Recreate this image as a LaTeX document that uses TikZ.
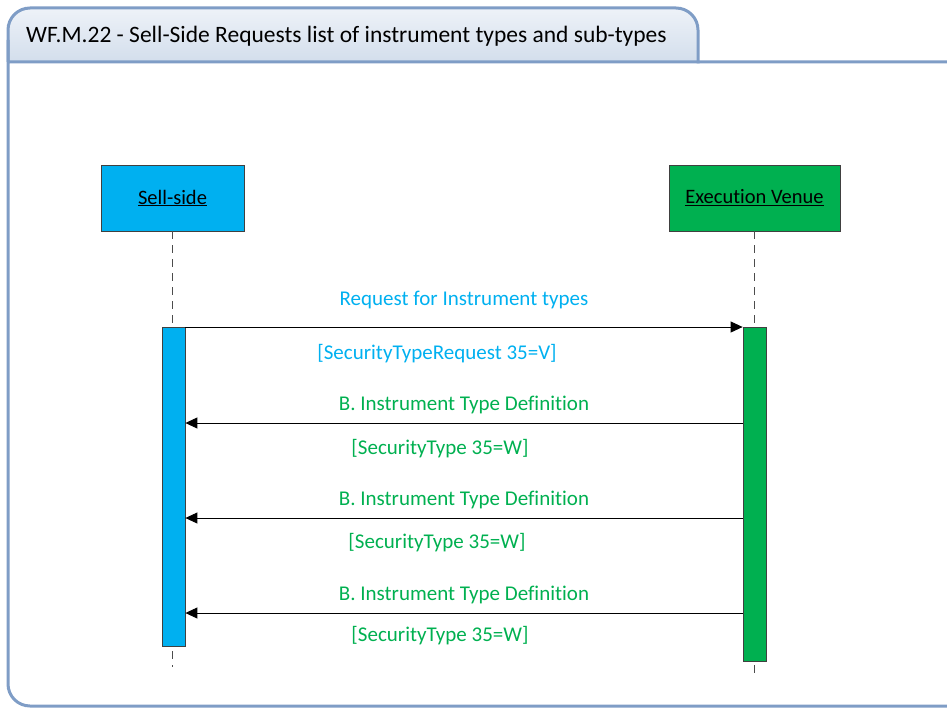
\documentclass[tikz,border=0pt]{standalone}
\usepackage{fontspec}
\setmainfont{Carlito}[Ligatures={NoCommon}]
\usetikzlibrary{arrows.meta}
\definecolor{frameblue}{HTML}{7F9DC6}
\definecolor{tabtop}{HTML}{EEF2F8}
\definecolor{tabbot}{HTML}{D3DEEC}
\definecolor{sellc}{HTML}{00B0F0}
\definecolor{venc}{HTML}{00B050}
\tikzset{
  actor/.style={draw=black!75, line width=0.8pt, minimum height=66pt, inner sep=0pt, font=\fontsize{20.5}{24}\selectfont},
  lifeline/.style={draw=black!70, line width=1pt, dash pattern=on 8pt off 6pt},
  actbar/.style={draw=black!75, line width=0.8pt, minimum width=23pt, inner sep=0pt, anchor=north},
  msg/.style={draw=black, line width=0.9pt, -{Triangle[length=12pt,width=11pt]}},
  lbl/.style={font=\fontsize{21}{24}\selectfont, inner sep=0pt},
}
\begin{document}
\begin{tikzpicture}[x=1pt,y=-1pt]
\useasboundingbox (0,0) rectangle (947,709);
\clip (0,0) rectangle (947,709);
% frame
\begin{scope}
  \clip[rounded corners=22pt] (8,8) rectangle (698,120);
  \shade[top color=tabtop, bottom color=tabbot] (8,8) rectangle (698,62);
\end{scope}
\draw[frameblue, line width=3pt, rounded corners=22pt] (8,40) -- (8,706) -- (980,706) -- (980,62) -- (6.5,62);
\draw[frameblue, line width=3pt, rounded corners=22pt] (8,62) -- (8,8) -- (698,8) -- (698,63.5);
\node[anchor=west, inner sep=0pt, font=\fontsize{23.5}{28}\selectfont] (title) at (26,36) {WF.M.22 - Sell-Side Requests list of instrument types and sub-types};
% actors
\node[actor, fill=sellc, minimum width=143pt] (sell) at (172.5,198) {\underline{Sell-side}};
\node[actor, fill=venc, minimum width=171pt] (venue) at (754.5,198) {\underline{Execution Venue}};
% lifelines
\coordinate (sellend) at (172.5,667);
\coordinate (venend) at (754.5,677);
\draw[lifeline] (sell.south) -- (sellend);
\draw[lifeline] (venue.south) -- (venend);
% activation bars
\node[actbar, fill=sellc, minimum height=319pt] (sellbar) at (173.5,327) {};
\node[actbar, fill=venc, minimum height=334pt] (venbar) at (754.5,327) {};
% messages
\coordinate (m1s) at (sellbar.north east);
\coordinate (m1e) at (venbar.north west);
\draw[msg] (m1s) -- (m1e);
\node[lbl, text=sellc] (l1a) at (464,300) {Request for Instrument types};
\node[lbl, text=sellc] (l1b) at (437,354) {[SecurityTypeRequest 35=V]};
\foreach \y/\ly/\lby/\lbx [count=\i] in {423/405/449/440, 518/500/543/437, 613/595/636/440}{
  \coordinate (r\i s) at ([yshift=327pt-\y pt]venbar.north west);
  \coordinate (r\i e) at ([yshift=327pt-\y pt]sellbar.north east);
  \draw[msg] (r\i s) -- (r\i e);
  \node[lbl, text=venc] (r\i a) at (464,\ly) {B. Instrument Type Definition};
  \node[lbl, text=venc] (r\i b) at (\lbx,\lby) {[SecurityType 35=W]};
}
\end{tikzpicture}
\end{document}
